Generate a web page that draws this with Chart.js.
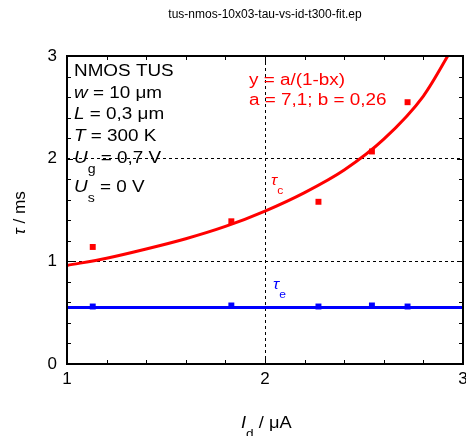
<!DOCTYPE html>
<html>
<head>
<meta charset="utf-8">
<script src="https://cdn.jsdelivr.net/npm/chart.js@4.4.0/dist/chart.umd.min.js"></script>
<style>
  body { margin: 0; background: #fff; }
  canvas { display: block; }
</style>
</head>
<body>
<canvas id="tauChart" width="466" height="436"></canvas>
<script>
// measured drain currents (uA)
const idValues = [1.13, 1.83, 2.27, 2.54, 2.72];
// capture time constant tau_c (ms)
const tauC = [1.14, 1.39, 1.58, 2.07, 2.55];
// emission time constant tau_e (ms)
const tauE = [0.56, 0.57, 0.56, 0.57, 0.56];
// fit curve y = a/(1-bx)
const fitX = [1.0, 1.2, 1.4, 1.6, 1.8, 2.0, 2.2, 2.4, 2.6, 2.8, 2.95];
const fitY = [0.96, 1.03, 1.12, 1.22, 1.34, 1.49, 1.67, 1.89, 2.19, 2.61, 3.09];
// tau_e mean line
const meanX = [1, 3];
const meanY = [0.55, 0.55];
const xTicks = [1, 2, 3];
const yTicks = [0, 1, 2, 3];

const RED = '#ff0000';
const BLUE = '#0000ff';
const FONT = '"Liberation Sans", Arial, sans-serif';

function toPoints(xs, ys) {
  return xs.map((x, i) => ({ x: x, y: ys[i] }));
}

// draws a list of [text, kind] pieces, kind: n normal, i italic, s subscript
// sx stretches the text sideways (the original labels are wider than Arial)
function drawRuns(ctx, x, y, runs, size, color, sx) {
  sx = sx || 1;
  ctx.save();
  ctx.translate(x, y);
  ctx.scale(sx, 1);
  ctx.fillStyle = color;
  ctx.textBaseline = 'alphabetic';
  ctx.textAlign = 'left';
  let cx = 0;
  runs.forEach(r => {
    const kind = r[1] || 'n';
    let fs = size, dy = 0, style = '';
    if (kind === 'i') style = 'italic ';
    if (kind === 's') { fs = Math.round(size * 0.75); dy = size * 0.6; }
    ctx.font = style + fs + 'px ' + FONT;
    ctx.fillText(r[0], cx, dy);
    cx += ctx.measureText(r[0]).width;
  });
  ctx.restore();
  return cx * sx;
}

// the plot box runs to 3px from the right edge, the "3" label is cut off there
const fixAreaPlugin = {
  id: 'fixArea',
  afterLayout(chart) {
    const xs = chart.scales.x;
    const r = chart.width - 3;
    xs.right = r;
    xs.width = r - xs.left;
    xs.configure();
    chart.chartArea.right = r;
    chart.chartArea.width = r - chart.chartArea.left;
  }
};

const framePlugin = {
  id: 'frame',
  afterDraw(chart) {
    const ctx = chart.ctx;
    const a = chart.chartArea;
    const xs = chart.scales.x;
    const ys = chart.scales.y;
    ctx.save();

    // inward ticks, major and minor
    ctx.strokeStyle = '#000';
    ctx.lineWidth = 1;
    ctx.beginPath();
    for (let v = 1; v <= 3.001; v += 0.2) {
      const px = Math.round(xs.getPixelForValue(v)) + 0.5;
      const major = Math.abs(v - Math.round(v)) < 0.01;
      const len = major ? 6 : 4;
      ctx.moveTo(px, a.bottom); ctx.lineTo(px, a.bottom - len);
      ctx.moveTo(px, a.top); ctx.lineTo(px, a.top + len);
    }
    for (let v = 0; v <= 3.001; v += 0.2) {
      const py = Math.round(ys.getPixelForValue(v)) + 0.5;
      const major = Math.abs(v - Math.round(v)) < 0.01;
      const len = major ? 6 : 4;
      ctx.moveTo(a.left, py); ctx.lineTo(a.left + len, py);
      ctx.moveTo(a.right, py); ctx.lineTo(a.right - len, py);
    }
    ctx.stroke();

    // frame
    ctx.lineWidth = 2;
    ctx.strokeRect(a.left, a.top, a.right - a.left, a.bottom - a.top);

    // title
    ctx.fillStyle = '#000';
    ctx.font = '12px ' + FONT;
    ctx.textAlign = 'center';
    ctx.fillText('tus-nmos-10x03-tau-vs-id-t300-fit.ep', (a.left + a.right) / 2, 18);

    // info block
    const lx = a.left + 7;
    const S = 1.18;
    drawRuns(ctx, lx, 76, [['NMOS TUS']], 16, '#000', S);
    drawRuns(ctx, lx, 97.5, [['w', 'i'], [' = 10 \u03bcm']], 16, '#000', S);
    drawRuns(ctx, lx, 119, [['L', 'i'], [' = 0,3 \u03bcm']], 16, '#000', S);
    drawRuns(ctx, lx, 141, [['T', 'i'], [' = 300 K']], 16, '#000', S);
    drawRuns(ctx, lx, 163, [['U', 'i'], ['g', 's'], [' = 0,7 V']], 16, '#000', S);
    drawRuns(ctx, lx, 192, [['U', 'i'], ['s', 's'], [' = 0 V']], 16, '#000', S);

    // fit formula
    drawRuns(ctx, 249, 85, [['y = a/(1-bx)']], 16, RED, S);
    drawRuns(ctx, 249, 105, [['a = 7,1; b = 0,26']], 16, RED, S);

    // series labels
    drawRuns(ctx, 271, 185, [['\u03c4', 'i'], ['c', 's']], 15, RED, 1.1);
    drawRuns(ctx, 273, 289, [['\u03c4', 'i'], ['e', 's']], 15, BLUE, 1.1);

    // x axis title
    drawRuns(ctx, 241, 428, [['I', 'i'], ['d', 's'], [' / \u03bcA']], 16, '#000', 1.14);

    // y axis title
    ctx.translate(25, 213);
    ctx.rotate(-Math.PI / 2);
    ctx.font = 'italic 16px ' + FONT;
    const w1 = ctx.measureText('\u03c4').width;
    ctx.font = '16px ' + FONT;
    const w2 = ctx.measureText(' / ms').width;
    drawRuns(ctx, -(w1 + w2) * 1.07 / 2, 0, [['\u03c4', 'i'], [' / ms']], 16, '#000', 1.07);

    ctx.restore();
  }
};

new Chart(document.getElementById('tauChart').getContext('2d'), {
  type: 'scatter',
  data: {
    datasets: [
      {
        label: 'fit',
        data: toPoints(fitX, fitY),
        showLine: true,
        borderColor: RED,
        borderWidth: 3,
        pointRadius: 0,
        cubicInterpolationMode: 'monotone'
      },
      {
        label: 'tau_c',
        data: toPoints(idValues, tauC),
        pointStyle: 'rect',
        pointRadius: 4.2,
        backgroundColor: RED,
        borderWidth: 0
      },
      {
        label: 'tau_e mean',
        data: toPoints(meanX, meanY),
        showLine: true,
        borderColor: BLUE,
        borderWidth: 3,
        pointRadius: 0
      },
      {
        label: 'tau_e',
        data: toPoints(idValues, tauE),
        pointStyle: 'rect',
        pointRadius: 4.2,
        backgroundColor: BLUE,
        borderWidth: 0
      }
    ]
  },
  options: {
    responsive: false,
    animation: false,
    devicePixelRatio: 1,
    layout: { padding: { top: 56, right: 3, left: 0, bottom: 0 } },
    plugins: {
      legend: { display: false },
      tooltip: { enabled: false }
    },
    scales: {
      x: {
        type: 'linear',
        min: 1,
        max: 3,
        afterBuildTicks: scale => { scale.ticks = xTicks.map(v => ({ value: v })); },
        afterFit: scale => {
          scale.height = 72;
          scale.paddingLeft = 0;
          scale.paddingRight = 0;
        },
        ticks: { color: '#000', font: { size: 17, family: FONT }, padding: 5, maxRotation: 0 },
        grid: {
          drawTicks: false,
          color: c => (c.tick && c.tick.value === 2) ? '#000' : 'rgba(0,0,0,0)',
          lineWidth: 1
        },
        border: { display: false, dash: [3, 3] }
      },
      y: {
        type: 'linear',
        min: 0,
        max: 3,
        afterBuildTicks: scale => { scale.ticks = yTicks.map(v => ({ value: v })); },
        afterFit: scale => {
          scale.width = 67;
          scale.paddingTop = 0;
          scale.paddingBottom = 0;
        },
        ticks: { color: '#000', font: { size: 17, family: FONT }, padding: 10 },
        grid: {
          drawTicks: false,
          color: c => (c.tick && (c.tick.value === 1 || c.tick.value === 2)) ? '#000' : 'rgba(0,0,0,0)',
          lineWidth: 1
        },
        border: { display: false, dash: [3, 3] }
      }
    }
  },
  plugins: [fixAreaPlugin, framePlugin]
});
</script>
</body>
</html>
